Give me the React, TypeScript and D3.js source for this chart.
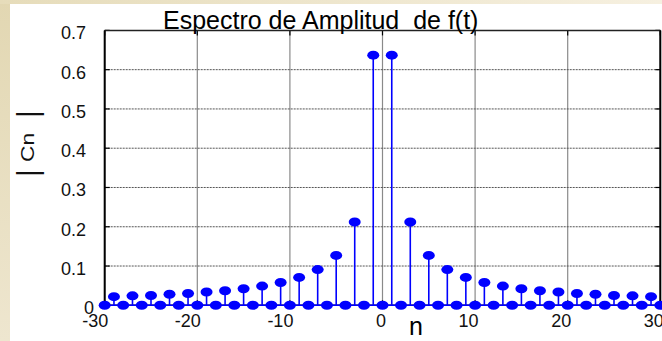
import React from "react";
import * as d3 from "d3";

const nIndex = [
  -30, -29, -28, -27, -26, -25, -24, -23, -22, -21, -20, -19, -18, -17, -16, -15,
  -14, -13, -12, -11, -10, -9, -8, -7, -6, -5, -4, -3, -2, -1, 0, 1, 2, 3, 4, 5,
  6, 7, 8, 9, 10, 11, 12, 13, 14, 15, 16, 17, 18, 19, 20, 21, 22, 23, 24, 25, 26,
  27, 28, 29, 30,
];
const cnMagnitude = [
  0, 0.022, 0, 0.024, 0, 0.025, 0, 0.028, 0, 0.03, 0, 0.034, 0, 0.037, 0, 0.042,
  0, 0.049, 0, 0.058, 0, 0.071, 0, 0.091, 0, 0.127, 0, 0.212, 0, 0.637, 0, 0.637,
  0, 0.212, 0, 0.127, 0, 0.091, 0, 0.071, 0, 0.058, 0, 0.049, 0, 0.042, 0, 0.037,
  0, 0.034, 0, 0.03, 0, 0.028, 0, 0.025, 0, 0.024, 0, 0.022, 0,
];
const xTicks = [-30, -20, -10, 0, 10, 20, 30];
const yTicks = [0, 0.1, 0.2, 0.3, 0.4, 0.5, 0.6, 0.7];
const titleText = "Espectro de Amplitud  de f(t)";
const xLabel = "n";
const yLabelCore = "Cn";

const W = 662;
const H = 341;
const FONT = "'Liberation Sans', Arial, sans-serif";

export default function App() {
  const x = d3.scaleLinear().domain([-30, 30]).range([104.7, 660.3]);
  const y = d3.scaleLinear().domain([0, 0.7]).range([305.3, 30.4]);
  const data = nIndex.map((n, i) => ({ n, v: cnMagnitude[i] }));
  const blue = "#0000ff";
  const left = x(-30);
  const right = x(30);
  const top = y(0.7);
  const bottom = y(0);

  return (
    <svg
      width={W}
      height={H}
      style={{ position: "absolute", left: 0, top: 0 }}
      fontFamily={FONT}
    >
      <defs>
        <linearGradient id="bgL" x1="0" y1="0" x2="0" y2="1">
          <stop offset="0" stopColor="#e2d7b2" />
          <stop offset="1" stopColor="#eee6cf" />
        </linearGradient>
        <linearGradient id="bgT" x1="0" y1="0" x2="1" y2="0">
          <stop offset="0" stopColor="#e6dcba" />
          <stop offset="1" stopColor="#f6f0e0" />
        </linearGradient>
      </defs>
      <rect x={0} y={0} width={W} height={H} fill="url(#bgL)" />
      <rect x={0} y={0} width={W} height={4} fill="url(#bgT)" />
      <rect x={10} y={4} width={W - 10} height={H - 4} fill="#ffffff" />

      {/* vertical grid */}
      {xTicks.map((t) => (
        <line key={"vg" + t} x1={x(t)} x2={x(t)} y1={top} y2={bottom} stroke="#8a8a8a" strokeWidth={1.2} />
      ))}
      {/* horizontal grid */}
      {yTicks.filter((t) => t > 0 && t < 0.7).map((t) => (
        <line key={"hg" + t} x1={left} x2={right} y1={y(t)} y2={y(t)} stroke="#555" strokeWidth={1} strokeDasharray="2,1" />
      ))}

      {/* ticks */}
      {yTicks.map((t) => (
        <g key={"yt" + t}>
          <line x1={left} x2={left + 5} y1={y(t)} y2={y(t)} stroke="#000" strokeWidth={1.2} />
          <line x1={right - 5} x2={right} y1={y(t)} y2={y(t)} stroke="#000" strokeWidth={1.2} />
        </g>
      ))}
      {xTicks.map((t) => (
        <g key={"xt" + t}>
          <line x1={x(t)} x2={x(t)} y1={top} y2={top + 5} stroke="#000" strokeWidth={1.2} />
          <line x1={x(t)} x2={x(t)} y1={bottom - 5} y2={bottom} stroke="#000" strokeWidth={1.2} />
        </g>
      ))}

      {/* frame */}
      <line x1={left} x2={right} y1={top} y2={top} stroke="#222" strokeWidth={1.5} />
      <line x1={left} x2={right} y1={bottom} y2={bottom} stroke="#000" strokeWidth={1.5} />
      <line x1={left} x2={left} y1={top} y2={bottom} stroke="#000" strokeWidth={2} />
      <line x1={right} x2={right} y1={top} y2={bottom} stroke="#000" strokeWidth={2} />

      {/* stem baseline */}
      <line x1={left} x2={right} y1={bottom} y2={bottom} stroke={blue} strokeWidth={1.5} />

      {/* stems */}
      {data.map((d) => (
        <g key={"s" + d.n}>
          {d.v > 0 && (
            <line x1={x(d.n)} x2={x(d.n)} y1={y(0)} y2={y(d.v)} stroke={blue} strokeWidth={1.6} />
          )}
          <ellipse cx={x(d.n)} cy={y(d.v)} rx={6} ry={4.5} fill={blue} />
        </g>
      ))}

      {/* y tick labels */}
      {yTicks.map((t) => (
        <text
          key={"yl" + t}
          x={t === 0 ? 94 : 86}
          y={y(t) + 9}
          textAnchor="end"
          fontSize={18}
          fill="#111"
        >
          {t === 0 ? "0" : d3.format(".1f")(t)}
        </text>
      ))}

      {/* x tick labels */}
      {xTicks.map((t) => (
        <text key={"xl" + t} x={x(t) + 3.5} y={327} textAnchor="end" fontSize={18} fill="#111">
          {String(t)}
        </text>
      ))}

      {/* title */}
      <text x={163} y={28.5} fontSize={25} fill="#000" style={{ whiteSpace: "pre" }}>
        {titleText}
      </text>

      {/* x label */}
      <text x={416} y={335} textAnchor="middle" fontSize={25} fill="#000">
        {xLabel}
      </text>

      {/* y label: |Cn | */}
      <text transform="translate(38,173) rotate(-90)" textAnchor="middle" fontSize={30} fill="#111">|</text>
      <text transform="translate(34,147.5) rotate(-90) scale(1.2,1)" textAnchor="middle" fontSize={19} fill="#111">
        {yLabelCore}
      </text>
      <text transform="translate(38,114) rotate(-90)" textAnchor="middle" fontSize={30} fill="#111">|</text>
    </svg>
  );
}
